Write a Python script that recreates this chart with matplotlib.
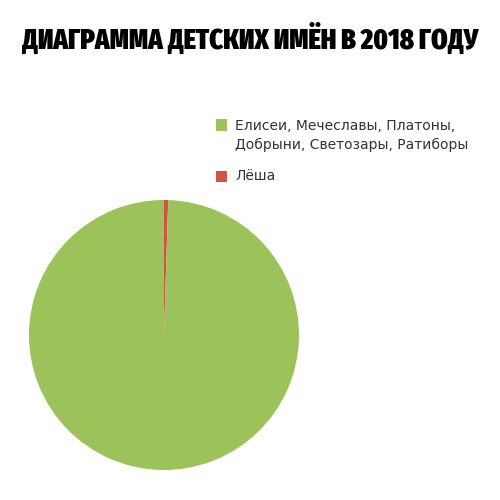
import matplotlib
matplotlib.use("Agg")
import matplotlib.pyplot as plt
from matplotlib.patches import Rectangle

title = "ДИАГРАММА ДЕТСКИХ ИМЁН В 2018 ГОДУ"
labels = ["Елисеи, Мечеславы, Платоны,\nДобрыни, Светозары, Ратиборы", "Лёша"]
values = [99.5, 0.5]
colors = ["#9BC35A", "#CF5646"]

fig = plt.figure(figsize=(5, 5), dpi=100)
fig.patch.set_facecolor("white")

ax = fig.add_axes([0.058, 0.06, 0.54, 0.54])
# red slice just right of 12 o'clock: draw clockwise
wedges, _ = ax.pie(values[::-1], colors=colors[::-1], startangle=90, counterclock=False,
                   wedgeprops=dict(linewidth=0), radius=1.0)
ax.set_xlim(-1, 1)
ax.set_ylim(-1, 1)
ax.set_aspect("equal")

fig.text(0.5, 0.922, title, ha="center", va="center", fontsize=20.5,
         fontweight=900, family=["Fira Sans Extra Condensed", "DejaVu Sans"], color="black")

# legend drawn manually so the swatch lines up with the first text line
leg_x = 0.432
leg_y = [0.75, 0.648]
for lab, col, y in zip(labels, colors, leg_y):
    fig.patches.append(Rectangle((leg_x, y - 0.011), 0.022, 0.022, transform=fig.transFigure,
                                 facecolor=col, edgecolor="none"))
    fig.text(leg_x + 0.038, y + 0.013, lab, ha="left", va="top", fontsize=10,
             color="#333333", linespacing=1.45)

fig.savefig("out.png", dpi=100, facecolor="white")
